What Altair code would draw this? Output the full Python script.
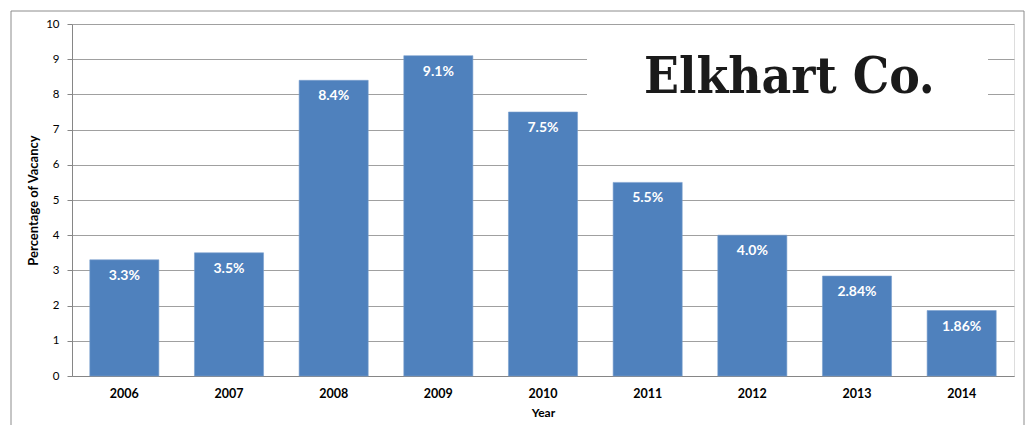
import altair as alt
import pandas as pd

years = ["2006", "2007", "2008", "2009", "2010", "2011", "2012", "2013", "2014"]
vacancy = [3.3, 3.5, 8.4, 9.1, 7.5, 5.5, 4.0, 2.84, 1.86]
labels = ["3.3%", "3.5%", "8.4%", "9.1%", "7.5%", "5.5%", "4.0%", "2.84%", "1.86%"]
y_ticks = [0, 1, 2, 3, 4, 5, 6, 7, 8, 9, 10]
title_text = "Elkhart Co."

df = pd.DataFrame({"Year": years, "Vacancy": vacancy, "Label": labels})

W, H = 942, 352
FONT = "Lato"

x_enc = alt.X(
    "Year:N",
    sort=years,
    scale=alt.Scale(paddingInner=0.34, paddingOuter=0.17),
    axis=alt.Axis(
        title="Year", labelAngle=0, ticks=False, grid=False,
        labelFont=FONT, labelFontWeight="bold", labelFontSize=12.5, labelColor="#000",
        labelPadding=11, titleFont=FONT, titleFontWeight="bold", titleFontSize=12,
        titleColor="#000", titlePadding=8, domainColor="#868686",
    ),
)
y_enc = alt.Y(
    "Vacancy:Q",
    scale=alt.Scale(domain=[0, 10]),
    axis=alt.Axis(
        title="Percentage of Vacancy", values=y_ticks, tickSize=5, labelOverlap=False,
        tickColor="#868686", domainColor="#868686", gridColor="#A0A0A0",
        labelFont=FONT, labelFontSize=11.5, labelColor="#000", labelPadding=8,
        titleFont=FONT, titleFontWeight="bold", titleFontSize=13, titleColor="#000",
        titlePadding=5,
    ),
)

base = alt.Chart(df)

frame = base.mark_rect(fill=None, stroke="#8C8C8C", strokeWidth=1).encode(
    x=alt.value(-61), x2=alt.value(W + 10), y=alt.value(-13), y2=alt.value(H + 200)
).transform_filter(alt.datum.Year == "2006")

bars = base.mark_bar(color="#4F81BD", stroke="#7BA0CF", strokeWidth=0.6).encode(
    x=x_enc, y=y_enc
)

text = base.mark_text(
    color="white", font=FONT, fontWeight="bold", fontSize=14, dy=16, baseline="middle"
).encode(x=x_enc, y=y_enc, text="Label:N")

box = base.mark_rect(fill="white").encode(
    x=alt.value(515), x2=alt.value(916), y=alt.value(10), y2=alt.value(90)
).transform_filter(alt.datum.Year == "2006")

title = base.mark_text(
    font="DejaVu Serif Condensed", fontWeight="bold", fontSize=51, align="left",
    baseline="alphabetic", color="#1a1a1a"
).encode(x=alt.value(572), y=alt.value(69), text=alt.value(title_text)).transform_filter(
    alt.datum.Year == "2006"
)

chart = alt.layer(frame, bars, text, box, title).properties(
    width=W, height=H,
    autosize=alt.AutoSizeParams(type="none"),
    padding={"left": 64, "top": 16, "right": 11, "bottom": 49},
).configure_view(stroke=None).configure(background="white")

chart.save("out.html", embed_options={"renderer": "svg", "actions": False})
